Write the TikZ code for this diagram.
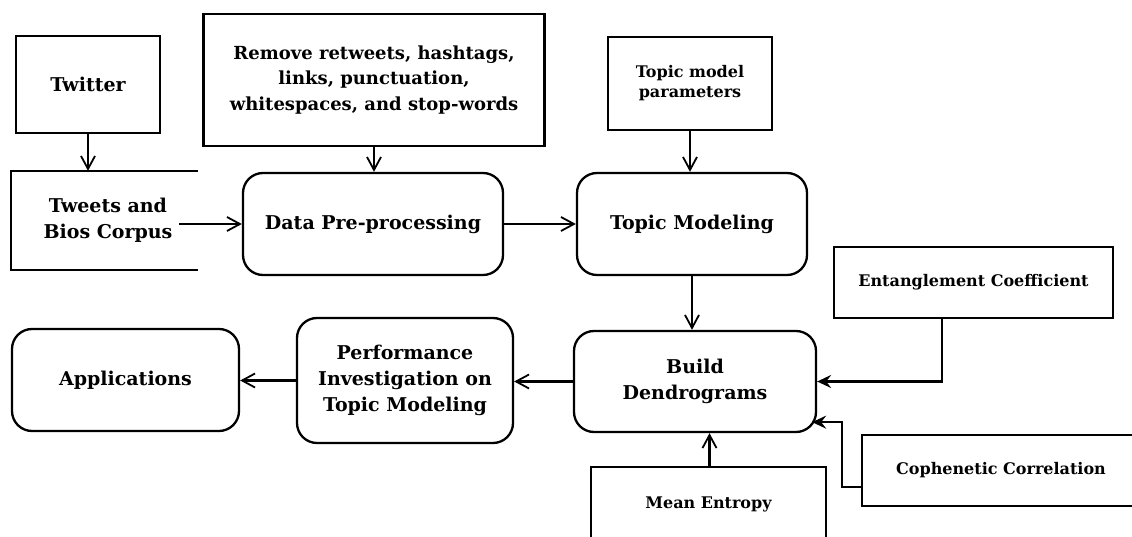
\documentclass[tikz,border=0pt]{standalone}
\usepackage{fontspec}
\setmainfont{DejaVu Serif}
\usetikzlibrary{arrows.meta,positioning}
\newcommand{\bigtxt}{\fontsize{19}{26}\selectfont\bfseries}
\newcommand{\midtxt}{\fontsize{18}{25.5}\selectfont\bfseries}
\newcommand{\smalltxt}{\fontsize{16}{20}\selectfont\bfseries}

\begin{document}
\begin{tikzpicture}[x=1pt,y=-1pt,line width=2.3pt,
  procbox/.style={draw,rounded corners=20pt,align=center,font=\bigtxt,inner sep=0pt},
  inbox/.style={draw,align=center,inner sep=0pt},
  flow/.style={-{Straight Barb[length=13pt,width=14pt,line width=1.8pt]}},
  feed/.style={-{Stealth[length=14pt,width=13pt,inset=5pt]}}]
  \useasboundingbox (0,0) rectangle (1132,537);
  \clip (0,0) rectangle (1132,537);
  \fill[white] (0,0) rectangle (1132,537);

  % --- top row: inputs ---
  \node[inbox,font=\bigtxt,minimum width=144pt,minimum height=97pt]
    (twitter) at (88,84.5) {Twitter};
  \node[inbox,font=\midtxt,minimum width=341pt,minimum height=132pt]
    (remove) at (374,80) {Remove retweets, hashtags,\\links, punctuation,\\whitespaces, and stop-words};
  \node[inbox,font=\smalltxt,minimum width=164pt,minimum height=93pt]
    (params) at (690,83.5) {Topic model\\parameters};

  % --- middle row ---
  \node[align=center,font=\bigtxt,inner sep=0pt,minimum width=185pt,minimum height=97pt]
    (tweets) at (104.5,220.5) {\hspace*{7pt}Tweets and\\\hspace*{7pt}Bios Corpus};
  \draw (tweets.north east) -- (tweets.north west) -- (tweets.south west) -- (tweets.south east);
  \node[procbox,minimum width=260pt,minimum height=102pt]
    (prep) at (373,224) {Data Pre-processing};
  \node[procbox,minimum width=230pt,minimum height=102pt]
    (topic) at (692,224) {Topic Modeling};
  \node[inbox,font=\smalltxt,minimum width=279pt,minimum height=71pt]
    (entangle) at (973.5,282.5) {Entanglement Coefficient};

  % --- bottom row ---
  \node[procbox,minimum width=227pt,minimum height=102pt]
    (apps) at (125.5,380) {Applications};
  \node[procbox,minimum width=216pt,minimum height=125pt]
    (perf) at (405,380.5) {Performance\\Investigation on\\Topic Modeling};
  \node[procbox,minimum width=242pt,minimum height=101pt]
    (build) at (695,381.5) {Build\\Dendrograms};
  \node[inbox,font=\smalltxt,minimum width=235pt,minimum height=74pt]
    (entropy) at (708.5,504) {Mean Entropy};
  \node[inbox,font=\smalltxt,minimum width=278pt,minimum height=71pt]
    (coph) at (1001,470.5) {Cophenetic Correlation};

  % connectors
  \draw[flow] (twitter.south) -- (twitter.south |- tweets.north);
  \draw[flow] (remove.south) -- (remove.south |- prep.north);
  \draw[flow] (params.south) -- (params.south |- topic.north);
  \draw[flow] ([xshift=-19pt]tweets.east |- prep.west) -- (prep.west);
  \draw[flow] (prep.east) -- (topic.west);
  \draw[flow] (topic.south) -- (topic.south |- build.north);
  \draw[flow] (build.west) -- (build.west -| perf.east);
  \draw[flow] (perf.west) -- (perf.west -| apps.east);
  \draw[flow] ([xshift=1pt]entropy.north) -- ([xshift=1pt]entropy.north |- build.south);
  \draw[feed] ([xshift=-31.5pt]entangle.south) |- (build.east);
  \draw[feed] ([yshift=-16.5pt]coph.west) -- ++(-19,0) |- ([xshift=-5pt,yshift=11pt]build.south east);
\end{tikzpicture}
\end{document}
